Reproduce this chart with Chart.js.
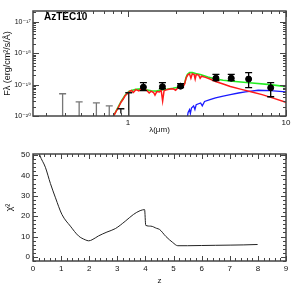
<!DOCTYPE html>
<html>
<head>
<meta charset="utf-8">
<script src="https://cdn.jsdelivr.net/npm/chart.js@4.4.1/dist/chart.umd.min.js"></script>
<style>
  html, body { margin: 0; padding: 0; background: #fff; }
  canvas { display: block; }
</style>
</head>
<body>
<canvas id="sedChart" width="302" height="138"></canvas>
<canvas id="chiChart" width="302" height="156"></canvas>
<script>
const sourceName = 'AzTEC10';

// best-fit templates (wavelength in micron, F_lambda in erg/cm2/s/A)
const redLam = [0.80, 0.84, 0.865, 0.904, 0.93, 0.957, 0.985, 1.015, 1.05, 1.08, 1.12, 1.17, 1.21, 1.26, 1.31, 1.36, 1.40, 1.45, 1.48, 1.52, 1.58, 1.62, 1.655, 1.69, 1.76, 1.84, 1.92, 2.00, 2.07, 2.15, 2.22, 2.28, 2.33, 2.38, 2.45, 2.50, 2.55, 2.62, 2.66, 2.70, 2.80, 2.86, 2.92, 3.09, 3.3, 3.58, 4.0, 4.44, 5.29, 6.0, 7.06, 8.3, 9.86, 10.2];
const redFlux = [0.9e-20, 1.4e-20, 1.8e-20, 2.8e-20, 3.4e-20, 4.4e-20, 5.0e-20, 5.9e-20, 6.5e-20, 5.6e-20, 6.9e-20, 6.3e-20, 7.2e-20, 6.9e-20, 6.6e-20, 5.4e-20, 6.2e-20, 5.6e-20, 4.6e-20, 6.0e-20, 5.8e-20, 6.6e-20, 3.0e-20, 6.4e-20, 6.9e-20, 7.2e-20, 7.4e-20, 6.6e-20, 8.0e-20, 9.0e-20, 8.2e-20, 1.05e-19, 1.6e-19, 2.0e-19, 2.2e-19, 1.6e-19, 2.2e-19, 2.1e-19, 1.5e-19, 2.1e-19, 2.0e-19, 1.6e-19, 1.85e-19, 1.7e-19, 1.5e-19, 1.25e-19, 1.05e-19, 8.7e-20, 6.9e-20, 5.9e-20, 4.8e-20, 3.7e-20, 2.8e-20, 2.6e-20];

const greenLam = [0.80, 0.865, 0.904, 0.957, 1.015, 1.12, 1.21, 1.30, 1.40, 1.52, 1.62, 1.76, 1.92, 2.07, 2.15, 2.28, 2.33, 2.38, 2.45, 2.55, 2.68, 2.9, 3.2, 3.58, 4.0, 4.77, 6.1, 7.94, 10.2];
const greenFlux = [0.9e-20, 1.9e-20, 2.9e-20, 4.6e-20, 6.1e-20, 7.1e-20, 7.3e-20, 6.8e-20, 6.4e-20, 6.2e-20, 6.8e-20, 7.1e-20, 7.6e-20, 8.2e-20, 9.2e-20, 1.08e-19, 1.7e-19, 2.15e-19, 2.4e-19, 2.4e-19, 2.25e-19, 2.05e-19, 1.75e-19, 1.5e-19, 1.38e-19, 1.26e-19, 1.12e-19, 1.0e-19, 8.5e-20];

const blueLam = [2.36, 2.40, 2.45, 2.48, 2.52, 2.6, 2.65, 2.7, 2.88, 2.95, 3.05, 3.3, 3.58, 4.0, 4.44, 5.0, 5.53, 6.67, 7.94, 10.2];
const blueFlux = [8e-21, 1.3e-20, 1.6e-20, 1.2e-20, 1.8e-20, 2.1e-20, 1.6e-20, 2.3e-20, 2.6e-20, 2.1e-20, 2.9e-20, 3.3e-20, 3.8e-20, 4.3e-20, 4.8e-20, 5.4e-20, 5.9e-20, 6.6e-20, 6.4e-20, 5.8e-20];

// photometry
const photLam = [1.25, 1.65, 2.15, 3.6, 4.5, 5.8, 8.0];
const photFlux = [8.3e-20, 8.6e-20, 8.9e-20, 1.6e-19, 1.6e-19, 1.5e-19, 7.9e-20];
const photLo = [6.4e-20, 7.4e-20, 8.0e-20, 1.35e-19, 1.35e-19, 8.0e-20, 4.1e-20];
const photHi = [1.15e-19, 1.15e-19, 1.07e-19, 2.1e-19, 2.1e-19, 2.4e-19, 1.15e-19];

// optical upper limits and weak detections
const limLam = [0.385, 0.49, 0.63, 0.76];
const limFlux = [5.1e-20, 2.8e-20, 2.6e-20, 2.1e-20];
const weakLam = [0.90, 1.01];
const weakLo = [1.2e-20, 1e-21];
const weakHi = [1.7e-20, 5.5e-20];

// chi-square vs redshift
const zGrid = [0.2, 0.24, 0.44, 0.62, 0.8, 1.03, 1.33, 1.62, 1.86, 1.98, 2.1, 2.33, 2.63, 2.93, 3.28, 3.57, 3.81, 3.97, 4.01, 4.19, 4.4, 4.5, 4.73, 4.97, 5.15, 5.5, 6.0, 6.5, 7.04, 7.5, 7.99];
const chiSq = [52, 50, 44, 36, 29, 20.8, 15.1, 10.3, 8.4, 7.9, 8.4, 10.3, 12.2, 13.9, 17.5, 20.8, 22.7, 23.2, 15.5, 15.1, 14, 13.5, 10, 7.1, 5.5, 5.5, 5.6, 5.7, 5.8, 5.9, 6.1];

Chart.defaults.font.family = "'Liberation Sans', 'DejaVu Sans', sans-serif";
Chart.defaults.color = '#111';

const SUP = '⁻⁰¹²³⁴⁵⁶⁷⁸⁹';
const sup = s => s.replace(/[-0-9]/g, c => SUP['-0123456789'.indexOf(c)]);

const logTicks = (min, max) => {
  const out = [];
  for (let e = Math.floor(Math.log10(min)); e <= Math.ceil(Math.log10(max)); e++) {
    for (let m = 1; m <= 9; m++) {
      const v = m * Math.pow(10, e);
      if (v >= min * 0.999 && v <= max * 1.001) out.push({ value: v, mj: m === 1 });
    }
  }
  return out;
};
const linTicks = (min, max, step, majorEvery) => {
  const out = [];
  for (let i = Math.ceil(min / step); i * step <= max + 1e-9; i++) {
    out.push({ value: +(i * step).toFixed(6), mj: i % majorEvery === 0 });
  }
  return out;
};

const pts = (xs, ys) => xs.map((v, i) => ({ x: v, y: ys[i] }));

// PGPLOT style frame: box with inward ticks on all four sides
const frameTicks = {
  id: 'frameTicks',
  afterDatasetsDraw(chart, args, opts) {
    const { ctx, chartArea: a, scales: { x, y } } = chart;
    ctx.save();
    ctx.strokeStyle = '#444';
    ctx.lineWidth = 1;
    ctx.beginPath();
    x.ticks.forEach(t => {
      const px = Math.round(x.getPixelForValue(t.value)) + 0.5;
      const len = t.mj ? opts.major : opts.minor;
      ctx.moveTo(px, a.bottom); ctx.lineTo(px, a.bottom - len);
      ctx.moveTo(px, a.top); ctx.lineTo(px, a.top + len);
    });
    y.ticks.forEach(t => {
      const py = Math.round(y.getPixelForValue(t.value)) + 0.5;
      const len = t.mj ? opts.major : opts.minor;
      ctx.moveTo(a.left, py); ctx.lineTo(a.left + len, py);
      ctx.moveTo(a.right, py); ctx.lineTo(a.right - len, py);
    });
    ctx.stroke();
    ctx.lineWidth = 1.5;
    ctx.strokeRect(a.left, a.top, a.width, a.height);
    ctx.restore();
  }
};

const errorBars = {
  id: 'errorBars',
  afterDatasetsDraw(chart) {
    if (chart.canvas.id !== 'sedChart') return;
    const { ctx, chartArea: a, scales: { x, y } } = chart;
    ctx.save();
    ctx.beginPath();
    ctx.rect(a.left, a.top, a.width, a.height);
    ctx.clip();
    const bar = (lam, lo, hi, color, capLo) => {
      const px = x.getPixelForValue(lam);
      const y0 = y.getPixelForValue(lo), y1 = y.getPixelForValue(hi);
      ctx.strokeStyle = color;
      ctx.lineWidth = 1.3;
      ctx.beginPath();
      ctx.moveTo(px, y0); ctx.lineTo(px, y1);
      ctx.moveTo(px - 3.5, y1); ctx.lineTo(px + 3.5, y1);
      if (capLo) { ctx.moveTo(px - 3.5, y0); ctx.lineTo(px + 3.5, y0); }
      ctx.stroke();
    };
    limLam.forEach((l, i) => bar(l, y.min, limFlux[i], '#777', false));
    weakLam.forEach((l, i) => bar(l, weakLo[i], weakHi[i], '#111', false));
    photLam.forEach((l, i) => bar(l, photLo[i], photHi[i], '#000', true));
    // source name
    ctx.fillStyle = '#000';
    ctx.font = "bold 10px 'Liberation Sans', 'DejaVu Sans', sans-serif";
    ctx.textBaseline = 'middle';
    ctx.fillText(sourceName, a.left + 11, a.top + 6.5);
    ctx.restore();
  }
};

const fixSize = (w, h) => s => {
  if (w !== null) s.width = w;
  if (h !== null) s.height = h;
  s.paddingLeft = s.paddingRight = s.paddingTop = s.paddingBottom = 0;
};

new Chart(document.getElementById('sedChart'), {
  type: 'line',
  data: {
    datasets: [
      { type: 'scatter', data: pts(photLam, photFlux), backgroundColor: '#000', borderColor: '#000', pointRadius: 3, order: 0 },
      { data: pts(redLam, redFlux), borderColor: '#ff1a1a', borderWidth: 1.5, pointRadius: 0, order: 1 },
      { data: pts(blueLam, blueFlux), borderColor: '#1a1aff', borderWidth: 1.3, pointRadius: 0, order: 2 },
      { data: pts(greenLam, greenFlux), borderColor: '#22ee22', borderWidth: 1.6, pointRadius: 0, order: 3 }
    ]
  },
  options: {
    responsive: false,
    animation: false,
    events: [],
    layout: { padding: { top: 11, right: 16, left: 0, bottom: 0 } },
    plugins: { legend: { display: false }, tooltip: { enabled: false }, frameTicks: { major: 6, minor: 3 } },
    scales: {
      x: {
        type: 'logarithmic', min: 0.25, max: 10,
        afterBuildTicks: s => { s.ticks = logTicks(0.25, 10); },
        afterFit: fixSize(null, 22),
        grid: { display: false, drawTicks: false },
        border: { display: false },
        ticks: {
          autoSkip: false, maxRotation: 0, padding: 2, font: { size: 8 },
          callback: (v, i, t) => t[i].mj ? String(Math.round(v)) : ''
        },
        title: { display: true, text: 'λ(μm)', font: { size: 8 }, padding: { top: 0, bottom: 3 } }
      },
      y: {
        type: 'logarithmic', min: 1e-20, max: 2.2e-17,
        afterBuildTicks: s => { s.ticks = logTicks(1e-20, 2.2e-17); },
        afterFit: fixSize(33, null),
        grid: { display: false, drawTicks: false },
        border: { display: false },
        ticks: {
          autoSkip: false, padding: 2, font: { size: 7 },
          callback: (v, i, t) => t[i].mj ? '10' + sup(String(Math.round(Math.log10(v)))) : ''
        },
        title: { display: true, text: 'Fλ (erg/cm²/s/Å)', font: { size: 9 }, padding: { top: 2, bottom: 0 } }
      }
    }
  },
  plugins: [errorBars, frameTicks]
});

new Chart(document.getElementById('chiChart'), {
  type: 'line',
  data: {
    datasets: [
      { data: pts(zGrid, chiSq), borderColor: '#222', borderWidth: 1, pointRadius: 0, cubicInterpolationMode: 'monotone' }
    ]
  },
  options: {
    responsive: false,
    animation: false,
    events: [],
    layout: { padding: { top: 16, right: 16, left: 0, bottom: 0 } },
    plugins: { legend: { display: false }, tooltip: { enabled: false }, frameTicks: { major: 5, minor: 3 } },
    scales: {
      x: {
        type: 'linear', min: 0, max: 9,
        afterBuildTicks: s => { s.ticks = linTicks(0, 9, 0.2, 5); },
        afterFit: fixSize(null, 33),
        grid: { display: false, drawTicks: false },
        border: { display: false },
        ticks: {
          autoSkip: false, maxRotation: 0, padding: 3, font: { size: 8 },
          callback: (v, i, t) => t[i].mj ? String(Math.round(v)) : ''
        },
        title: { display: true, text: 'z', font: { size: 8 }, padding: { top: 0, bottom: 8 } }
      },
      y: {
        type: 'linear', min: -2, max: 50.5,
        afterBuildTicks: s => { s.ticks = linTicks(-2, 50.5, 2, 5); },
        afterFit: fixSize(33, null),
        grid: { display: false, drawTicks: false },
        border: { display: false },
        ticks: {
          autoSkip: false, padding: 3, font: { size: 8 },
          callback: (v, i, t) => t[i].mj ? String(Math.round(v)) : ''
        },
        title: { display: true, text: 'χ²', font: { size: 9 }, padding: { top: 4, bottom: 0 } }
      }
    }
  },
  plugins: [frameTicks]
});
</script>
</body>
</html>
